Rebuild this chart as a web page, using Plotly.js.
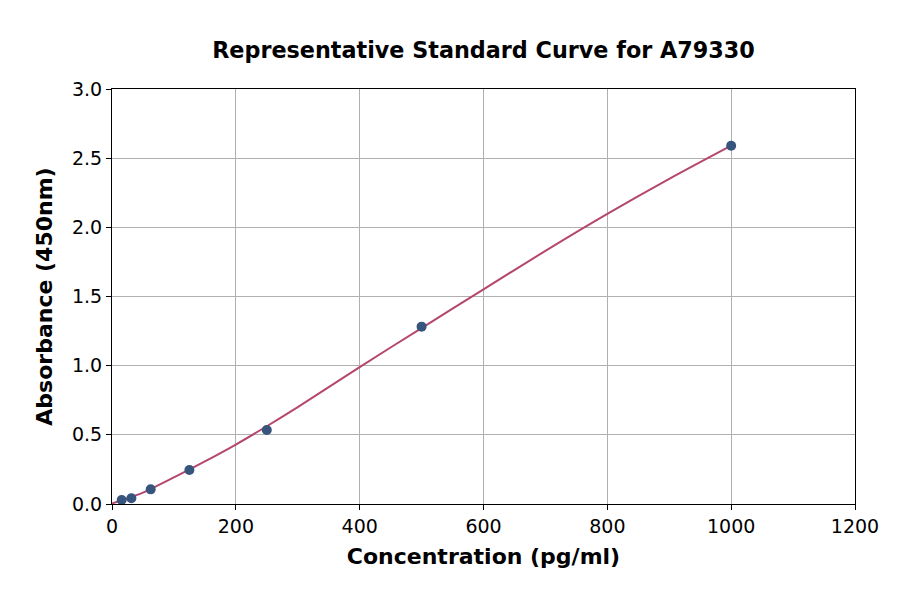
<!DOCTYPE html>
<html><head><meta charset="utf-8">
<script src="https://cdn.plot.ly/plotly-3.0.1.min.js"></script>
<style>body{margin:0;background:#fff}#c{width:900px;height:594px}</style>
</head><body><div id="c"></div>
<script>
const stdConc = [15.625, 31.25, 62.5, 125, 250, 500, 1000];
const stdAbs = [0.029, 0.041, 0.106, 0.246, 0.535, 1.282, 2.59];
const fitConc = [0, 25, 50, 100, 150, 200, 250, 300, 400, 500, 600, 700, 800, 900, 1000];
const fitAbs = [0.004, 0.04, 0.082, 0.192, 0.308, 0.43, 0.562, 0.70, 0.99, 1.272, 1.552, 1.83, 2.097, 2.35, 2.59];
const xTicks = [0, 200, 400, 600, 800, 1000, 1200];
const yTicks = [0.0, 0.5, 1.0, 1.5, 2.0, 2.5, 3.0];

const font = 'DejaVu Sans, sans-serif';
Plotly.newPlot('c', [
  {x: fitConc, y: fitAbs, mode: 'lines', line: {color: '#b5476f', width: 2, shape: 'spline', smoothing: 0.8}, hoverinfo: 'skip'},
  {x: stdConc, y: stdAbs, mode: 'markers', marker: {color: '#37547c', size: 10}}
], {
  width: 900, height: 594, showlegend: false,
  margin: {l: 112, r: 45, t: 89, b: 90},
  paper_bgcolor: '#fff', plot_bgcolor: '#fff',
  font: {family: font, color: '#000'},
  title: {text: '<b>Representative Standard Curve for A79330</b>', font: {size: 22.3, family: font}, x: 0.5, xanchor: 'center', xref: 'paper', yref: 'container', y: 0.916, yanchor: 'middle'},
  xaxis: {range: [0, 1200], tickvals: xTicks, ticktext: xTicks.map(String), showgrid: true, gridcolor: '#b0b0b0', gridwidth: 1,
    zeroline: false, showline: true, linecolor: '#000', linewidth: 1, mirror: true, ticks: 'outside', ticklen: 5, tickcolor: '#000',
    tickfont: {size: 19}, title: {text: '<b>Concentration (pg/ml)</b>', font: {size: 22}, standoff: 12}},
  yaxis: {range: [0, 3.0], tickvals: yTicks, ticktext: yTicks.map(v => v.toFixed(1)), showgrid: true, gridcolor: '#b0b0b0', gridwidth: 1,
    zeroline: false, showline: true, linecolor: '#000', linewidth: 1, mirror: true, ticks: 'outside', ticklen: 5, tickcolor: '#000',
    tickfont: {size: 19}, title: {text: '<b>Absorbance (450nm)</b>', font: {size: 22}, standoff: 13}}
}, {displayModeBar: false, staticPlot: true});
</script></body></html>
